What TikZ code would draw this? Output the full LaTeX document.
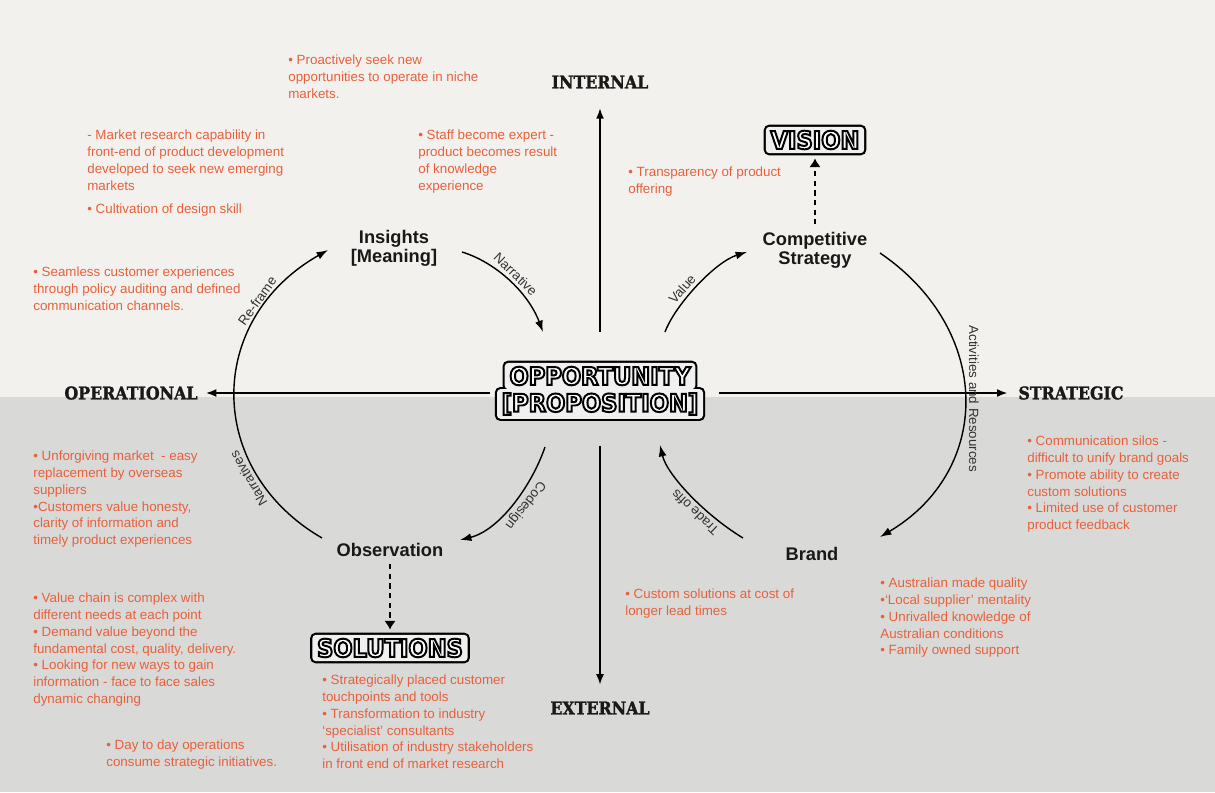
\documentclass[tikz,border=0pt]{standalone}
\usepackage{fontspec}
\setmainfont{Liberation Sans}
\newfontfamily\axisfont{DejaVu Serif}[FakeStretch=0.9,BoldFeatures={FakeBold=1.5}]
\newfontfamily\platefont{DejaVu Sans}[FakeStretch=0.92,BoldFeatures={FakeBold=8}]
\usetikzlibrary{arrows.meta}
\definecolor{notecol}{RGB}{232,96,60}
\definecolor{paperhi}{RGB}{243,241,237}
\definecolor{paperlo}{RGB}{217,217,215}
\definecolor{inkgray}{RGB}{50,50,50}
\newcommand{\platetext}[1]{\special{pdf:literal direct 0 G}#1}
\pgfdeclarelayer{paper}
\pgfdeclarelayer{plate}
\pgfsetlayers{paper,plate,main}
\begin{document}
\begin{tikzpicture}[x=0.02cm,y=-0.02cm,
  note/.style={anchor=north west,align=left,inner sep=0pt,text=notecol,font=\fontsize{7.6}{9.67}\selectfont},
  hub/.style={align=center,inner sep=1pt,text=black!90,font=\fontsize{10.4}{10.9}\selectfont\bfseries},
  head/.style={inner sep=0pt,text=black!90,font=\axisfont\fontsize{10}{12}\selectfont\bfseries},
  badge/.style={inner xsep=2.5pt,inner ysep=2pt,text=white,font=\platefont\fontsize{14}{16}\selectfont\bfseries},
  axis/.style={line width=1pt,-{Latex[length=6pt,width=4.5pt]}},
  flow/.style={line width=0.8pt,-{Latex[length=6.5pt,width=4.5pt]}},
  hop/.style={line width=0.8pt,dash pattern=on 3pt off 2.5pt,-{Latex[length=5pt,width=6.5pt]}},
  tag/.style={sloped,allow upside down,above,inner sep=2pt,text=inkgray,font=\fontsize{7.6}{9}\selectfont}]
\useasboundingbox (0,0) rectangle (1215,792);
\begin{pgfonlayer}{paper}
\fill[paperhi] (0,0) rectangle (1215,397);
\fill[paperlo] (0,397) rectangle (1215,792);
\end{pgfonlayer}

\node[head] (internal) at (600,82) {INTERNAL};
\node[head] (external) at (600,708) {EXTERNAL};
\node[head] (operational) at (131,393) {OPERATIONAL};
\node[head] (strategic) at (1071,393) {STRATEGIC};

\node[badge] (opp1) at (600,376) {\platetext{OPPORTUNITY}};
\node[badge,anchor=north] (opp2) at (opp1.south) {\platetext{[PROPOSITION]}};
\node[badge] (vision) at (815,140) {\platetext{VISION}};
\node[badge] (solutions) at (390,648) {\platetext{SOLUTIONS}};
\begin{pgfonlayer}{plate}
\foreach \b in {opp1,opp2,vision,solutions}
  \draw[line width=2.4pt,rounded corners=2pt] (\b.north west) rectangle (\b.south east);
\foreach \b in {opp1,opp2,vision,solutions}
  \fill[black!6,rounded corners=2pt] (\b.north west) rectangle (\b.south east);
\end{pgfonlayer}

\node[hub] (insights) at (394,248) {Insights\\{[Meaning]}};
\node[hub] (compstrat) at (815,250) {Competitive\\Strategy};
\node[hub] (observ) at (390,550) {Observation};
\node[hub] (brand) at (812,554) {Brand};

\draw[axis,shorten >=11pt] (opp1.north) ++(0,-31) -- (internal);
\draw[axis,shorten >=9.4pt] (opp2.south) ++(0,27) -- (external);
\draw[axis,shorten >=4.5pt] (opp2.west |- operational) ++(-7,0) -- (operational);
\draw[axis,shorten >=6pt] (opp2.east |- strategic) ++(16,0) -- (strategic);
\draw[hop,shorten <=3pt,shorten >=3pt] (compstrat) -- (vision);
\draw[hop,shorten <=3pt,shorten >=3pt] (observ) -- (solutions);

\coordinate (narrs-a) at (322,538);
\coordinate (reframe-b) at (328,250);
\coordinate (narr-a) at (462,252);
\coordinate (narr-b) at (543,332);
\coordinate (cod-a) at (545,447);
\coordinate (cod-b) at (460,540);
\coordinate (val-a) at (665,332);
\coordinate (val-b) at (747,252);
\coordinate (act-a) at (880,253);
\coordinate (act-b) at (880,537);
\coordinate (trd-a) at (743,538);
\coordinate (trd-b) at (660,445);
\draw[flow] (narrs-a) .. controls (205,470) and (205,320) .. (reframe-b)
  node[tag,pos=0.25] {Narratives} node[tag,pos=0.78] {Re-frame};
\draw[flow] (narr-a) .. controls (495,262) and (528,292) .. (narr-b) node[tag,pos=0.5] {Narrative};
\draw[flow] (cod-a) .. controls (532,485) and (500,530) .. (cod-b) node[tag,pos=0.45] {Codesign};
\draw[flow] (val-a) .. controls (675,305) and (715,262) .. (val-b) node[tag,pos=0.4] {Value};
\draw[flow] (act-a) .. controls (993,330) and (993,470) .. (act-b) node[tag,pos=0.5] {Activities and Resources};
\draw[flow] (trd-a) .. controls (705,515) and (667,475) .. (trd-b) node[tag,pos=0.38] {Trade offs};

\node[note] (proactive) at (288,54) {• Proactively seek new\\opportunities to operate in niche\\markets.};
\node[note] (mktresearch) at (87,129) {- Market research capability in\\front-end of product development\\developed to seek new emerging\\markets};
\node[note] (cultivate) at (87,203) {• Cultivation of design skill};
\node[note] (staffexpert) at (418,129) {• Staff become expert -\\product becomes result\\of knowledge\\experience};
\node[note] (transparency) at (628,166) {• Transparency of product\\offering};
\node[note] (seamless) at (33,266) {• Seamless customer experiences\\through policy auditing and defined\\communication channels.};
\node[note] (unforgiving) at (33,450) {• Unforgiving market ~- easy\\replacement by overseas\\suppliers\\•Customers value honesty,\\clarity of information and\\timely product experiences};
\node[note] (valuechain) at (33,592) {• Value chain is complex with\\different needs at each point\\• Demand value beyond the\\fundamental cost, quality, delivery.\\• Looking for new ways to gain\\information - face to face sales\\dynamic changing};
\node[note] (daytoday) at (106,739) {• Day to day operations\\consume strategic initiatives.};
\node[note] (touchpoints) at (322,674) {• Strategically placed customer\\touchpoints and tools\\• Transformation to industry\\`specialist' consultants\\• Utilisation of industry stakeholders\\in front end of market research};
\node[note] (leadtimes) at (625,588) {• Custom solutions at cost of\\longer lead times};
\node[note] (ausmade) at (880,577) {• Australian made quality\\•`Local supplier' mentality\\• Unrivalled knowledge of\\Australian conditions\\• Family owned support};
\node[note] (silos) at (1027,435) {• Communication silos -\\difficult to unify brand goals\\• Promote ability to create\\custom solutions\\• Limited use of customer\\product feedback};
\end{tikzpicture}
\end{document}
